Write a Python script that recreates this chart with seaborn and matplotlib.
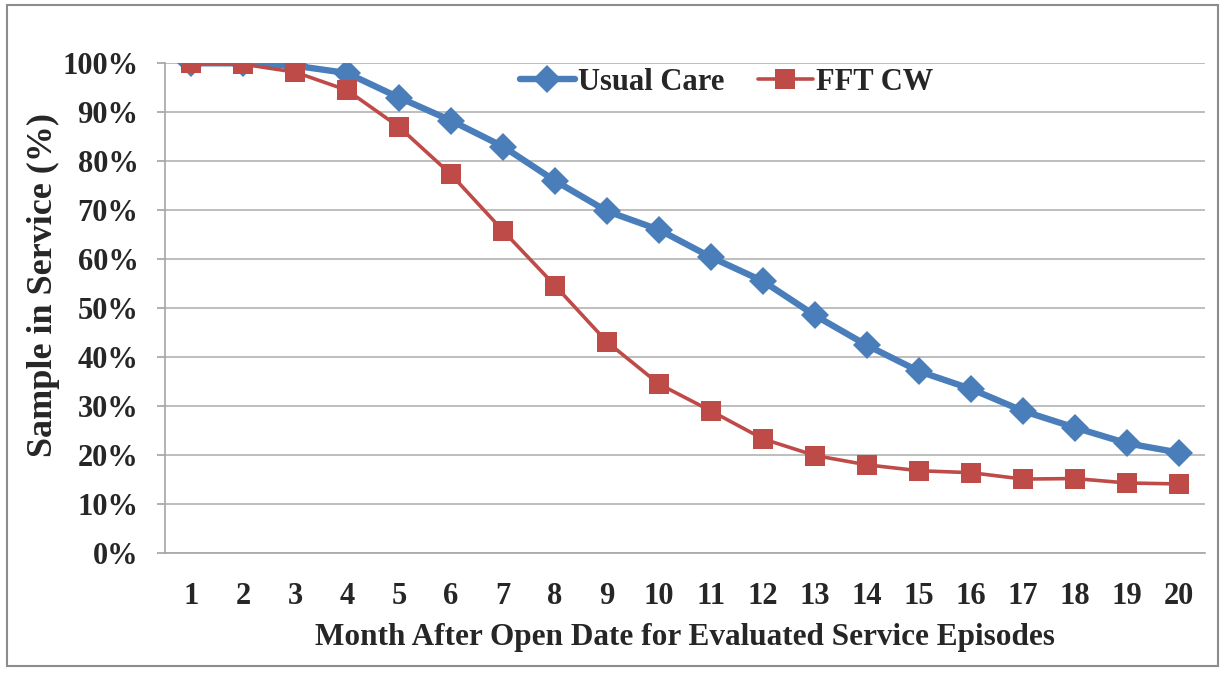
import matplotlib
matplotlib.use("Agg")
import matplotlib.pyplot as plt
import seaborn as sns
import pandas as pd
from matplotlib.patches import Rectangle
from matplotlib.ticker import FuncFormatter

months = list(range(1, 21))
usual_care = [100, 100, 99.5, 98, 93, 88.3, 83, 76, 69.8, 66, 60.4, 55.5, 48.5, 42.4,
              37.1, 33.5, 29, 25.6, 22.4, 20.5]
fft_cw = [100, 99.8, 98.2, 94.5, 87, 77.3, 65.8, 54.6, 43.1, 34.5, 29, 23.3, 19.9, 18,
          16.8, 16.4, 15.1, 15.2, 14.3, 14.1]
series_names = ["Usual Care", "FFT CW"]

df = pd.DataFrame({
    "Month": months * 2,
    "Value": usual_care + fft_cw,
    "Series": [series_names[0]] * len(months) + [series_names[1]] * len(months),
})

sns.set_theme(style="white")
plt.rcParams['font.family'] = ['Liberation Serif', 'DejaVu Serif']
plt.rcParams['font.weight'] = 'bold'

fig = plt.figure(figsize=(12.25, 6.73), dpi=100)
ax = fig.add_axes([0.1347, 0.1783, 0.849, 0.7277])

colors = {"Usual Care": "#4A7EBB", "FFT CW": "#BE4B48"}
styles = {"Usual Care": dict(marker="D", lw=4.6, ms=14),
          "FFT CW": dict(marker="s", lw=2.6, ms=14)}
for name in series_names:
    sub = df[df["Series"] == name]
    sns.lineplot(data=sub, x="Month", y="Value", ax=ax, color=colors[name],
                 marker=styles[name]["marker"], markersize=styles[name]["ms"],
                 linewidth=styles[name]["lw"], markeredgewidth=0, label=name,
                 zorder=3 if name == "FFT CW" else 2)

ax.set_xlim(0.5, 20.5)
ax.set_ylim(0, 100)
ax.set_xticks(months)
ax.set_xticklabels([str(m) for m in months])
ax.set_yticks(range(0, 101, 10))
ax.yaxis.set_major_formatter(FuncFormatter(lambda v, p: f"{int(v)}%"))
ax.grid(axis="y", color="#BEBEBE", linewidth=1.4)
ax.grid(axis="x", visible=False)
ax.set_axisbelow(True)
for s in ["top", "right"]:
    ax.spines[s].set_visible(False)
ax.spines["left"].set_color("#A6A6A6")
ax.spines["bottom"].set_color("#A6A6A6")
ax.spines["left"].set_linewidth(1.2)
ax.spines["bottom"].set_linewidth(1.2)
ax.tick_params(axis="y", which="major", left=True, length=6, color="#A6A6A6",
               labelsize=22, pad=13)
ax.tick_params(axis="x", which="major", bottom=False, labelsize=22, pad=15)
for lab in ax.get_xticklabels() + ax.get_yticklabels():
    lab.set_fontweight("bold")

ax.set_xlabel("Month After Open Date for Evaluated Service Episodes",
              fontsize=22.5, fontweight="bold")
ax.set_ylabel("Sample in Service (%)", fontsize=26, fontweight="bold")
ax.xaxis.set_label_coords(0.5, -0.142)
ax.yaxis.set_label_coords(-0.101, 0.547)

leg = ax.legend(loc="upper center", bbox_to_anchor=(0.54, 1.047), ncol=2, frameon=False,
                prop={"family": "Liberation Serif", "weight": "bold", "size": 22},
                handlelength=1.8, columnspacing=1.1, handletextpad=0.1)

fig.patches.append(Rectangle((0.006, 0.01), 0.988, 0.982, transform=fig.transFigure,
                             fill=False, edgecolor="#8C8C8C", linewidth=1.5))

fig.savefig("out.png", dpi=100)
